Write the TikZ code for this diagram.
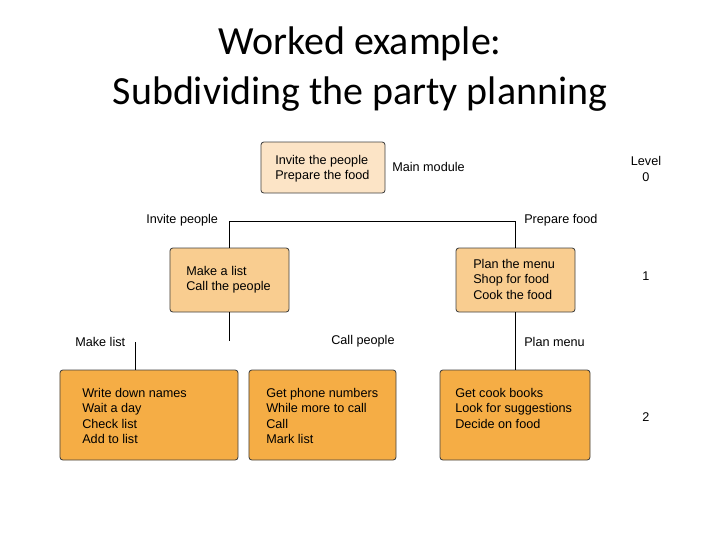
\documentclass[tikz,border=0pt]{standalone}
\usepackage{fontspec}
\setmainfont{Liberation Sans}
\newfontfamily\titlefont{Carlito}
\usetikzlibrary{positioning}
\definecolor{peach}{HTML}{FCE4C6}
\definecolor{midorange}{HTML}{F9CD90}
\definecolor{deeporange}{HTML}{F5AD45}
\tikzset{
  box/.style={draw=black!75,line width=0.6pt,rounded corners=2pt,inner sep=0pt},
  txt/.style={anchor=north west,align=left,inner sep=0pt},
  lbl/.style={anchor=west,inner sep=0pt}
}

\begin{document}
\begin{tikzpicture}[x=0.25mm,y=-0.25mm,font=\fontsize{9}{11}\selectfont]
  \useasboundingbox (0,0) rectangle (720,540);
  % title
  \node[font=\titlefont\fontsize{28.4}{35.5}\selectfont,align=center] (title) at (360,69)
    {Worked example:\\Subdividing the party planning};
  % level 0
  \node[box,fill=peach,minimum width=31mm,minimum height=12.75mm] (top) at (323,167.5) {};
  \node[txt] at (275,155) {Invite the people\\Prepare the food};
  \node[lbl] (mainlbl) at (392,167) {Main module};
  % level 1
  \node[box,fill=midorange,minimum width=29.75mm,minimum height=16mm] (inv) at (229.5,280) {};
  \node[txt] at (186,266) {Make a list\\Call the people};
  \node[box,fill=midorange,minimum width=29.75mm,minimum height=16mm] (prep) at (515.5,280) {};
  \node[txt] at (473,259) {Plan the menu\\Shop for food\\Cook the food};
  \coordinate (joint) at (0,221);
  \draw[line width=0.6pt] (inv.north) -- (inv.north |- joint) -| (prep.north);
  \node[lbl] (invlbl) at (146,220.5) {Invite people};
  \node[lbl] (preplbl) at (524,220.5) {Prepare food};
  % level 2
  \node[box,fill=deeporange,minimum width=44.5mm,minimum height=22.5mm] (mk) at (149,415) {};
  \node[txt] at (82,388) {Write down names\\Wait a day\\Check list\\Add to list};
  \node[box,fill=deeporange,minimum width=36.75mm,minimum height=22.5mm] (cl) at (322.5,415) {};
  \node[txt] at (266,388) {Get phone numbers\\While more to call\\Call\\Mark list};
  \node[box,fill=deeporange,minimum width=37.5mm,minimum height=22.5mm] (pl) at (515,415) {};
  \node[txt] at (455,388) {Get cook books\\Look for suggestions\\Decide on food};
  \coordinate (invend) at (229.5,341);
  \coordinate (mkend) at (135,342);
  \draw[line width=0.6pt] (inv.south) -- (invend);
  \draw[line width=0.6pt] (mkend) -- (mkend |- mk.north);
  \draw[line width=0.6pt] (prep.south) -- (prep.south |- pl.north);
  \node[lbl] (mklbl) at (75,341.5) {Make list};
  \node[lbl] (cllbl) at (331,341.5) {Call people};
  \node[lbl] (pllbl) at (524,341.5) {Plan menu};
  % levels
  \node[align=center,inner sep=0pt] (lvl0) at (646,169) {Level\\0};
  \node[inner sep=0pt] (lvl1) at (646,276) {1};
  \node[inner sep=0pt] (lvl2) at (646,417) {2};
\end{tikzpicture}
\end{document}
